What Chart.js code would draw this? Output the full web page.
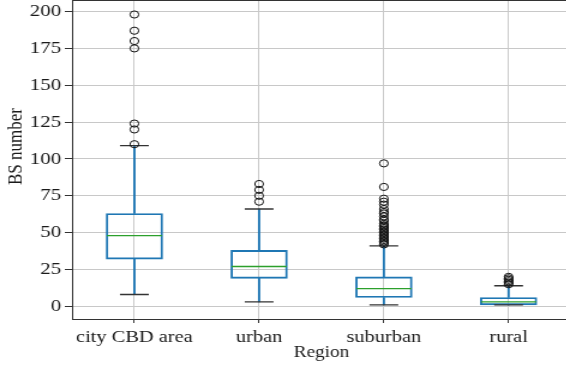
<!DOCTYPE html>
<html>
<head>
<meta charset="utf-8">
<script src="https://cdn.jsdelivr.net/npm/chart.js@4.4.0/dist/chart.umd.min.js"></script>
<style>
  html, body { margin: 0; padding: 0; background: #fff; overflow: hidden; }
  /* the reference is stretched sideways, so the chart is drawn narrow and widened */
  #wrap { width: 480px; height: 366px; transform: scaleX(1.2); transform-origin: 0 0; }
</style>
</head>
<body>
<div id="wrap"><canvas id="boxChart" width="480" height="366"></canvas></div>
<script>
const categories = ["city CBD area", "urban", "suburban", "rural"];
const lowerWhisker = [8, 3, 1, 1];
const q1 = [32, 19, 6, 1];
const medians = [48, 27, 12, 3];
const q3 = [63, 38, 20, 6];
const upperWhisker = [109, 66, 41, 14];
const outliers = [
  [110, 120, 124, 175, 180, 187, 198],
  [71, 75, 79, 83],
  [42, 43, 44, 45, 46, 47, 48, 49, 50, 51, 52, 53, 54, 55, 56, 58, 59, 61, 63, 64, 66, 69, 71, 73, 81, 97],
  [15, 16, 17, 18, 19, 20]
];
const yTicks = [0, 25, 50, 75, 100, 125, 150, 175, 200];

const BLUE = "#1f77b4";
const GREEN = "#2ca02c";
const DARK = "#1a1a1a";

const outlierPoints = [];
outliers.forEach(function (list, i) {
  list.forEach(function (v) { outlierPoints.push({ x: categories[i], y: v }); });
});

const framePlugin = {
  id: "frame",
  afterDraw(chart) {
    const { ctx, chartArea } = chart;
    ctx.save();
    ctx.strokeStyle = "#333";
    ctx.lineWidth = 1;
    ctx.beginPath();
    ctx.moveTo(chartArea.left, chartArea.top);
    ctx.lineTo(chartArea.right, chartArea.top);
    ctx.stroke();
    // y axis title sits a little above the plot centre in the reference
    ctx.translate(13.3, 146.5);
    ctx.rotate(-Math.PI / 2);
    ctx.font = "17px 'Liberation Serif'";
    ctx.fillStyle = DARK;
    ctx.textAlign = "center";
    ctx.textBaseline = "middle";
    ctx.fillText("BS number", 0, 0);
    ctx.restore();
  }
};

Chart.defaults.font.family = "'Liberation Serif', 'Times New Roman', serif";
Chart.defaults.color = DARK;

new Chart(document.getElementById("boxChart").getContext("2d"), {
  type: "bar",
  data: {
    labels: categories,
    datasets: [
      {
        label: "lower whisker",
        data: categories.map((c, i) => [lowerWhisker[i], q1[i]]),
        backgroundColor: BLUE,
        borderWidth: 0,
        barThickness: 1.25,
        grouped: false,
        order: 6
      },
      {
        label: "upper whisker",
        data: categories.map((c, i) => [q3[i], upperWhisker[i]]),
        backgroundColor: BLUE,
        borderWidth: 0,
        barThickness: 1.25,
        grouped: false,
        order: 6
      },
      {
        label: "box",
        data: categories.map((c, i) => [q1[i], q3[i]]),
        backgroundColor: "rgba(0,0,0,0)",
        borderColor: BLUE,
        borderWidth: 1.25,
        borderSkipped: false,
        barThickness: 47,
        grouped: false,
        order: 5
      },
      {
        type: "line",
        label: "median",
        data: medians,
        showLine: false,
        pointStyle: "line",
        pointRadius: 23,
        pointHoverRadius: 23,
        pointBorderColor: GREEN,
        pointBorderWidth: 1.4,
        order: 4
      },
      {
        type: "line",
        label: "lower cap",
        data: lowerWhisker,
        showLine: false,
        pointStyle: "line",
        pointRadius: 12,
        pointHoverRadius: 12,
        pointBorderColor: "#333",
        pointBorderWidth: 1.4,
        order: 3
      },
      {
        type: "line",
        label: "upper cap",
        data: upperWhisker,
        showLine: false,
        pointStyle: "line",
        pointRadius: 12,
        pointHoverRadius: 12,
        pointBorderColor: "#333",
        pointBorderWidth: 1.4,
        order: 3
      },
      {
        type: "line",
        label: "outliers",
        data: outlierPoints,
        showLine: false,
        pointStyle: "circle",
        pointRadius: 3.6,
        pointHoverRadius: 3.6,
        pointBorderColor: "#111",
        pointBackgroundColor: "rgba(0,0,0,0)",
        pointBorderWidth: 1,
        order: 1
      }
    ]
  },
  options: {
    responsive: false,
    animation: false,
    layout: { autoPadding: false, padding: { left: 0, right: 4.2, top: 0.5, bottom: 0 } },
    plugins: { legend: { display: false }, tooltip: { enabled: false } },
    scales: {
      x: {
        grid: { offset: false, color: "#c8c8c8", tickColor: "#333", tickLength: 4 },
        border: { color: "#333", width: 1 },
        ticks: { font: { size: 17 }, padding: 4, maxRotation: 0, autoSkip: false },
        title: { display: true, text: "Region", font: { size: 16 }, padding: { top: 0, bottom: 3.5 } },
        afterFit(scale) { scale.height = 47; }
      },
      y: {
        min: -8.6,
        max: 207.5,
        grid: { color: "#c8c8c8", tickColor: "#333", tickLength: 6 },
        border: { color: "#333", width: 1 },
        ticks: { font: { size: 17.5 }, padding: 3 },
        afterBuildTicks(scale) { scale.ticks = yTicks.map(v => ({ value: v })); },
        afterFit(scale) {
          scale.width = 60;
          scale.paddingTop = 0;
          scale.paddingBottom = 0;
        }
      }
    }
  },
  plugins: [framePlugin]
});
</script>
</body>
</html>
